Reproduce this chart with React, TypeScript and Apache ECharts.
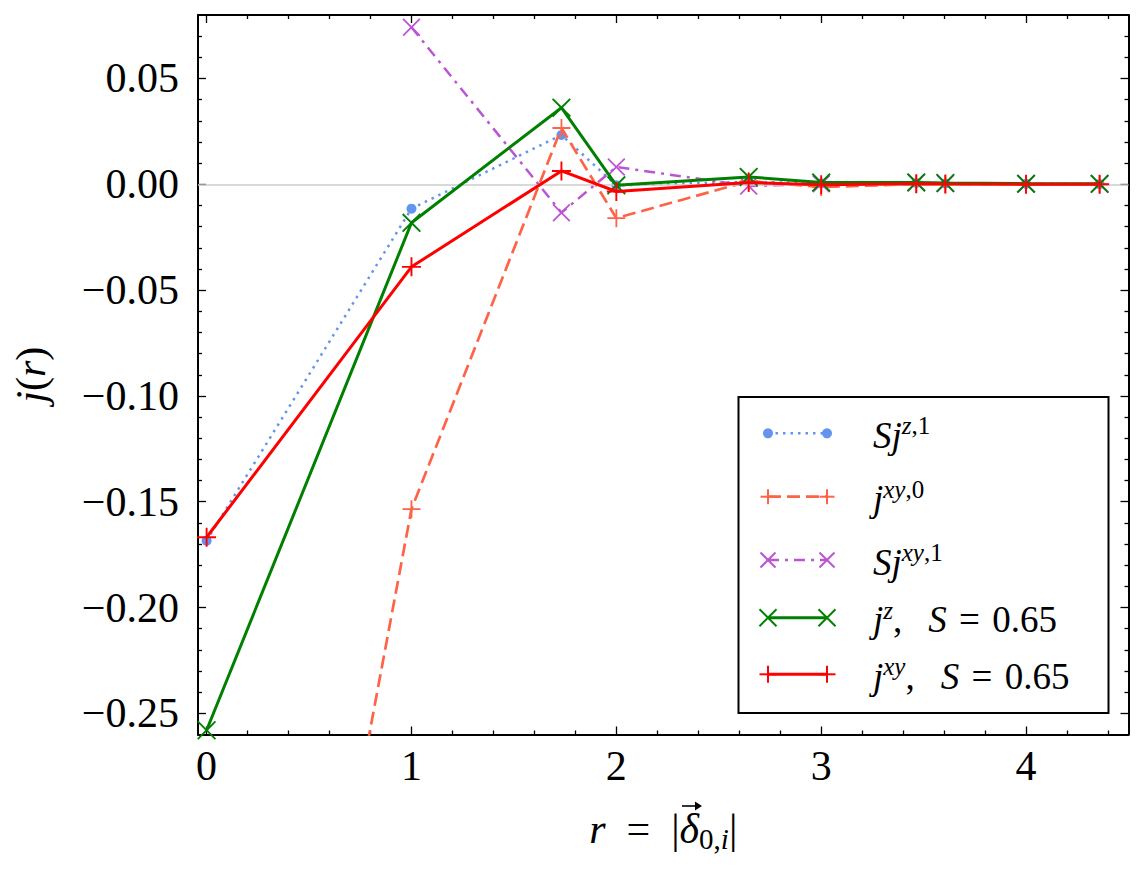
import React, { useEffect, useRef } from "react";
import * as echarts from "echarts";

// ---------------- data ----------------
const R = [0, 1, 1.732, 2, 2.646, 3, 3.464, 3.606, 4, 4.359];
const R_SJXY1 = [1, 1.732, 2, 2.646, 3, 3.464, 3.606, 4, 4.359];
const SJZ1 = [-0.1684, -0.0115, 0.0233, -0.0005, 0.0012, 0.0005, 0.0006, 0.0004, 0.0002, 0.0001];
const JXY0 = [-0.67, -0.1535, 0.0266, -0.016, 0.0015, -0.0013, 0.0001, 0.0, 0.0, 0.0];
const SJXY1 = [0.0742, -0.0134, 0.0082, -0.0008, 0.0002, 0.0008, 0.0004, 0.0001, 0.0001];
const JZ = [-0.258, -0.0182, 0.0362, -0.0005, 0.0035, 0.0008, 0.0009, 0.0006, 0.0003, 0.0002];
const JXY = [-0.1668, -0.039, 0.0063, -0.0034, 0.0008, -0.0002, 0.0002, 0.0001, 0.0, 0.0];

const X_MAJOR = [0, 1, 2, 3, 4];
const X_MINOR = [0.2, 0.4, 0.6, 0.8, 1.2, 1.4, 1.6, 1.8, 2.2, 2.4, 2.6, 2.8, 3.2, 3.4, 3.6, 3.8, 4.2, 4.4];
const Y_MAJOR = [-0.25, -0.2, -0.15, -0.1, -0.05, 0, 0.05];
const Y_MINOR = [
  -0.24, -0.23, -0.22, -0.21, -0.19, -0.18, -0.17, -0.16, -0.14, -0.13, -0.12, -0.11,
  -0.09, -0.08, -0.07, -0.06, -0.04, -0.03, -0.02, -0.01, 0.01, 0.02, 0.03, 0.04, 0.06, 0.07,
];
const X_MIN = -0.042;
const X_MAX = 4.5;
const Y_MIN = -0.26;
const Y_MAX = 0.08;

const NAMES = ["Sj^{z,1}", "j^{xy,0}", "Sj^{xy,1}", "j^z, S = 0.65", "j^{xy}, S = 0.65"];
const LEGEND_RICH = [
  "{it|Sj}{supi|z}{sup|,1}",
  "{it|j}{supi|xy}{sup|,0}",
  "{it|Sj}{supi|xy}{sup|,1}",
  "{it|j}{supi|z}{n|,\u2002\u2009}{it|S}{n|\u2004=\u20040.65}",
  "{it|j}{supi|xy}{n|,\u2002\u2009}{it|S}{n|\u2004=\u20040.65}",
];

// ---------------- styles ----------------
const SERIF = "Liberation Serif";
const BLUE = "#6495ED";
const TOMATO = "#FF6347";
const ORCHID = "#BA55D3";
const GREEN = "#008000";
const RED = "#FF0000";

const PLUS = "path://M9,0h2v20h-2z M0,9h20v2h-20z";
const CROSS =
  "path://M0,1.4L1.4,0L10,8.6L18.6,0L20,1.4L11.4,10L20,18.6L18.6,20L10,11.4L1.4,20L0,18.6L8.6,10Z";

const tok = (size: number, lh: number, italic: boolean, va?: string) => {
  const o: any = {
    fontFamily: SERIF,
    fontSize: size,
    lineHeight: lh,
    fontStyle: italic ? "italic" : "normal",
    fontWeight: "normal",
    color: "#000",
  };
  if (va) o.verticalAlign = va;
  return o;
};

const richMath = (size: number, supSize: number, supLH: number, baseLH: number) => ({
  it: tok(size, baseLH, true),
  n: tok(size, baseLH, false),
  supi: tok(supSize, supLH, true, "top"),
  sup: tok(supSize, supLH, false, "top"),
  sub: tok(supSize, supLH, false, "bottom"),
  subi: tok(supSize, supLH, true, "bottom"),
});

const AXIS_LINE = { show: true, onZero: false, lineStyle: { color: "#000", width: 2 } };
const NO_LINE = { show: false, onZero: false };
const TICK_STYLE = { color: "#000", width: 1.3 };

function xAxisDef(position: string, major: boolean, labels: boolean, extra: any = {}) {
  return {
    type: "value",
    position,
    min: X_MIN,
    max: X_MAX,
    axisLine: major ? AXIS_LINE : NO_LINE,
    axisTick: {
      show: true,
      inside: true,
      length: major ? 8 : 4,
      customValues: major ? X_MAJOR : X_MINOR,
      lineStyle: TICK_STYLE,
    },
    axisLabel: labels
      ? {
          show: true,
          customValues: X_MAJOR,
          formatter: (v: number) => String(Math.round(v)),
          fontFamily: SERIF,
          fontSize: 42,
          color: "#000",
          margin: 10,
        }
      : { show: false },
    splitLine: { show: false },
    ...extra,
  };
}

function yAxisDef(position: string, major: boolean, labels: boolean, extra: any = {}) {
  return {
    type: "value",
    position,
    min: Y_MIN,
    max: Y_MAX,
    axisLine: major ? AXIS_LINE : NO_LINE,
    axisTick: {
      show: true,
      inside: true,
      length: major ? 8 : 4,
      customValues: major ? Y_MAJOR : Y_MINOR,
      lineStyle: TICK_STYLE,
    },
    axisLabel: labels
      ? {
          show: true,
          customValues: Y_MAJOR,
          formatter: (v: number) => (v < -1e-9 ? "\u2212" : "") + Math.abs(v).toFixed(2),
          fontFamily: SERIF,
          fontSize: 42,
          color: "#000",
          margin: 19,
        }
      : { show: false },
    splitLine: { show: false },
    ...extra,
  };
}

// legend geometry
const LEG_BOX = { x: 738.5, y: 397, w: 370, h: 316 };
const LEG_ROWS = [433.3, 496.7, 560, 617.7, 674.3];
const LEG_X1 = 768;
const LEG_X2 = 827;
const LEG_TX = 873;

type Mark = "circle" | "plus" | "cross";
const LEG_STYLE: { color: string; width: number; dash: any; mark: Mark; ms: number }[] = [
  { color: BLUE, width: 2.5, dash: [2.5, 5], mark: "circle", ms: 5 },
  { color: TOMATO, width: 2.7, dash: [13, 6], mark: "plus", ms: 7.5 },
  { color: ORCHID, width: 2.5, dash: [11, 6, 3, 6], mark: "cross", ms: 7.5 },
  { color: GREEN, width: 3, dash: null, mark: "cross", ms: 8.5 },
  { color: RED, width: 3, dash: null, mark: "plus", ms: 8.5 },
];

function markerEls(kind: Mark, cx: number, cy: number, s: number, color: string) {
  const z = 101;
  if (kind === "circle") {
    return [{ type: "circle", z, shape: { cx, cy, r: s }, style: { fill: color } }];
  }
  if (kind === "plus") {
    return [
      { type: "line", z, shape: { x1: cx - s, y1: cy, x2: cx + s, y2: cy }, style: { stroke: color, lineWidth: 2 } },
      { type: "line", z, shape: { x1: cx, y1: cy - s, x2: cx, y2: cy + s }, style: { stroke: color, lineWidth: 2 } },
    ];
  }
  return [
    { type: "line", z, shape: { x1: cx - s, y1: cy - s, x2: cx + s, y2: cy + s }, style: { stroke: color, lineWidth: 2 } },
    { type: "line", z, shape: { x1: cx - s, y1: cy + s, x2: cx + s, y2: cy - s }, style: { stroke: color, lineWidth: 2 } },
  ];
}

function buildGraphics() {
  const els: any[] = [
    {
      type: "rect",
      z: 100,
      shape: { x: LEG_BOX.x, y: LEG_BOX.y, width: LEG_BOX.w, height: LEG_BOX.h },
      style: { fill: "#fff", stroke: "#000", lineWidth: 2 },
    },
  ];
  LEG_STYLE.forEach((st, i) => {
    const y = LEG_ROWS[i];
    els.push({
      type: "line",
      z: 101,
      shape: { x1: LEG_X1, y1: y, x2: LEG_X2, y2: y },
      style: { stroke: st.color, lineWidth: st.width, lineDash: st.dash || undefined },
    });
    els.push(...markerEls(st.mark, LEG_X1, y, st.ms, st.color));
    els.push(...markerEls(st.mark, LEG_X2, y, st.ms, st.color));
    els.push({
      type: "text",
      z: 101,
      x: LEG_TX,
      y: y + 2,
      style: {
        text: LEGEND_RICH[i],
        fontFamily: SERIF,
        fontSize: 37,
        fill: "#000",
        rich: richMath(37, 25, 30, 44),
        verticalAlign: "middle",
        align: "left",
      },
    });
  });
  // vector arrow over the delta of the x-axis label
  els.push({
    type: "line",
    z: 101,
    shape: { x1: 682, y1: 806, x2: 700, y2: 806 },
    style: { stroke: "#000", lineWidth: 1.6 },
  });
  els.push({
    type: "polygon",
    z: 101,
    shape: { points: [[695, 801.5], [702, 806], [695, 810.5]] },
    style: { fill: "#000" },
  });
  return els;
}

const pts = (xs: number[], ys: number[]) => xs.map((x, i) => [x, ys[i]]);

export default function App() {
  const ref = useRef<HTMLDivElement>(null);
  useEffect(() => {
    if (!ref.current) return;
    const chart = echarts.init(ref.current, null, { renderer: "svg" });
    const option: any = {
      animation: false,
      backgroundColor: "#fff",
      grid: { left: 198, right: 15.5, top: 15, bottom: 141.5, containLabel: false },
      xAxis: [
        xAxisDef("bottom", true, true, {
          name: "{it|r}{n|\u2002=\u2002|}{it|\u03b4}{sub|0,}{subi|i}{n||}",
          nameLocation: "middle",
          nameGap: 69,
          nameTextStyle: { fontFamily: SERIF, fontSize: 42, rich: richMath(42, 29, 29, 50) },
        }),
        xAxisDef("bottom", false, false),
        xAxisDef("top", true, false),
        xAxisDef("top", false, false),
      ],
      yAxis: [
        yAxisDef("left", true, true, {
          name: "{it|j}{n|(}{it|r}{n|)}",
          nameLocation: "middle",
          nameRotate: 90,
          nameGap: 143,
          nameTextStyle: { fontFamily: SERIF, fontSize: 42, rich: richMath(42, 29, 29, 48) },
        }),
        yAxisDef("left", false, false),
        yAxisDef("right", true, false),
        yAxisDef("right", false, false),
      ],
      series: [
        {
          type: "line",
          name: NAMES[0],
          data: pts(R, SJZ1),
          symbol: "circle",
          symbolSize: 10,
          itemStyle: { color: BLUE, borderWidth: 0 },
          lineStyle: { color: BLUE, width: 2.5, type: [2.5, 5] },
          z: 2,
          markLine: {
            silent: true,
            symbol: "none",
            label: { show: false },
            lineStyle: { color: "#cccccc", width: 1.5, type: "solid" },
            data: [{ yAxis: 0 }],
          },
        },
        {
          type: "line",
          name: NAMES[1],
          data: pts(R, JXY0),
          symbol: PLUS,
          symbolSize: 18,
          symbolKeepAspect: true,
          itemStyle: { color: TOMATO, borderWidth: 0 },
          lineStyle: { color: TOMATO, width: 2.7, type: [13, 6] },
          z: 3,
        },
        {
          type: "line",
          name: NAMES[2],
          data: pts(R_SJXY1, SJXY1),
          symbol: CROSS,
          symbolSize: 18,
          symbolKeepAspect: true,
          itemStyle: { color: ORCHID, borderWidth: 0 },
          lineStyle: { color: ORCHID, width: 2.5, type: [11, 6, 3, 6] },
          z: 4,
        },
        {
          type: "line",
          name: NAMES[3],
          data: pts(R, JZ),
          symbol: CROSS,
          symbolSize: 19,
          symbolKeepAspect: true,
          itemStyle: { color: GREEN, borderWidth: 0 },
          lineStyle: { color: GREEN, width: 3 },
          z: 5,
        },
        {
          type: "line",
          name: NAMES[4],
          data: pts(R, JXY),
          symbol: PLUS,
          symbolSize: 19,
          symbolKeepAspect: true,
          itemStyle: { color: RED, borderWidth: 0 },
          lineStyle: { color: RED, width: 3 },
          z: 6,
        },
      ],
      graphic: buildGraphics(),
    };
    chart.setOption(option);
    return () => chart.dispose();
  }, []);
  return (
    <div
      ref={ref}
      style={{ position: "fixed", left: 0, top: 0, width: 1144, height: 876, background: "#fff" }}
    />
  );
}
